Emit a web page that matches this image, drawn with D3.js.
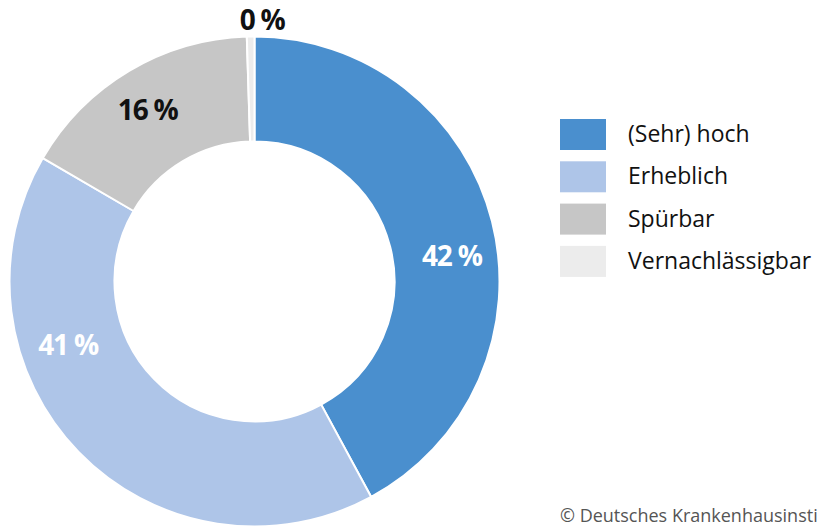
<!DOCTYPE html>
<html>
<head>
<meta charset="utf-8">
<script src="https://cdn.jsdelivr.net/npm/d3@7"></script>
<style>
  body { margin: 0; background: #fff; }
  text { font-family: "Open Sans", "Noto Sans", sans-serif; }
</style>
</head>
<body>
<svg id="chart" width="817" height="526"></svg>
<script>
const categories = ["(Sehr) hoch", "Erheblich", "Spürbar", "Vernachlässigbar"];
const values = [42.1, 41.3, 16.1, 0.5];
const labels = ["42 %", "41 %", "16 %", "0 %"];
const colors = ["#4a8fce", "#aec5e8", "#c6c6c6", "#ececec"];

const svg = d3.select("#chart");
const cx = 254.5, cy = 281.5;
const outerR = 245, innerR = 140;

const g = svg.append("g").attr("transform", `translate(${cx},${cy})`);

const pie = d3.pie().sort(null).value(d => d);
const arcs = pie(values);
const arc = d3.arc().innerRadius(innerR).outerRadius(outerR);

g.selectAll("path")
  .data(arcs)
  .enter()
  .append("path")
  .attr("d", arc)
  .attr("fill", (d, i) => colors[i])
  .attr("stroke", "#fff")
  .attr("stroke-width", 2);

// label placement: angle shift (rad) from slice middle, and radius
const labelShift = [0.12, 0.44, -0.02, 0.045];
const labelRadius = [199, 197, 202, 262];
const labelFill = ["#fff", "#fff", "#111", "#111"];
const labelAngle = (d, i) => (d.startAngle + d.endAngle) / 2 + labelShift[i];

g.selectAll("text.lbl")
  .data(arcs)
  .enter()
  .append("text")
  .attr("class", "lbl")
  .attr("x", (d, i) => Math.sin(labelAngle(d, i)) * labelRadius[i])
  .attr("y", (d, i) => -Math.cos(labelAngle(d, i)) * labelRadius[i])
  .attr("dy", "0.36em")
  .attr("text-anchor", "middle")
  .style("font-size", "28px")
  .style("font-weight", "bold")
  .style("letter-spacing", "-1.2px")
  .attr("fill", (d, i) => labelFill[i])
  .text((d, i) => labels[i]);

// legend
const legend = svg.append("g").attr("transform", "translate(560,119)");
const item = legend.selectAll("g")
  .data(categories)
  .enter()
  .append("g")
  .attr("transform", (d, i) => `translate(0,${i * 42.3})`);

item.append("rect")
  .attr("width", 46)
  .attr("height", 31)
  .attr("fill", (d, i) => colors[i]);

item.append("text")
  .attr("x", 68)
  .attr("y", 23)
  .style("font-size", "23px")
  .attr("fill", "#111")
  .text(d => d);

svg.append("text")
  .attr("x", 560)
  .attr("y", 522)
  .style("font-size", "18px")
  .attr("fill", "#555")
  .text("© Deutsches Krankenhausinstitut");
</script>
</body>
</html>
